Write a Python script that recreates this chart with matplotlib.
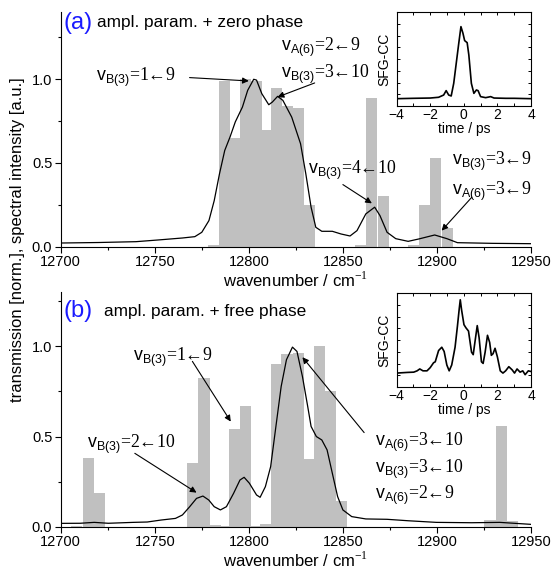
import numpy as np
import matplotlib
matplotlib.use('Agg')
import matplotlib.pyplot as plt
from matplotlib.ticker import MultipleLocator, NullFormatter

plt.rcParams['font.family'] = ['Liberation Sans', 'DejaVu Sans']
plt.rcParams['mathtext.fontset'] = 'custom'
plt.rcParams['mathtext.sf'] = 'Liberation Sans'
plt.rcParams['mathtext.rm'] = 'Liberation Serif'

# ---- panel (a): amplitude parametrisation + zero phase
bars_a_x = [12781.3, 12786.9, 12792.6, 12798.1, 12803.9, 12809.3, 12814.8, 12820.8,
            12826.6, 12832.2, 12859.5, 12865.3, 12871.4, 12887.5, 12893.3, 12899.4, 12905.5]
bars_a_h = [0.012, 0.99, 0.65, 1.0, 0.99, 0.70, 0.95, 0.84,
            0.83, 0.25, 0.012, 0.89, 0.30, 0.012, 0.25, 0.53, 0.11]

spec_a_x = [12700, 12720, 12740, 12751.6, 12764.7, 12771.3, 12775, 12778.8, 12781.6, 12784.4,
            12787.2, 12790, 12792.8, 12796.6, 12799.4, 12802.6, 12804.1, 12806.9, 12810.6, 12812.5,
            12815.3, 12818.1, 12822.8, 12827.5, 12830.3, 12833.1, 12835.6, 12838.8, 12844.4, 12849,
            12853.8, 12857.5, 12862.2, 12866.9, 12869.7, 12873.5, 12878.1, 12884.7, 12890.3, 12898.8,
            12905.3, 12910.9, 12929.7, 12950]
spec_a_y = [0.022, 0.025, 0.030, 0.040, 0.052, 0.060, 0.086, 0.156, 0.275, 0.435,
            0.575, 0.655, 0.745, 0.834, 0.934, 1.0, 0.995, 0.914, 0.848, 0.864,
            0.898, 0.874, 0.774, 0.615, 0.435, 0.236, 0.116, 0.092, 0.092, 0.076,
            0.064, 0.096, 0.196, 0.236, 0.186, 0.086, 0.048, 0.032, 0.046, 0.070,
            0.048, 0.024, 0.020, 0.018]

cc_a_t = [-4, -3, -2, -1.5, -1.2, -1.05, -0.9, -0.75, -0.6, -0.45, -0.3, -0.17, -0.05,
          0.05, 0.2, 0.3, 0.45, 0.6, 0.75, 0.85, 1.0, 1.3, 1.6, 1.8, 2.5, 3, 4]
cc_a_y = [0.078, 0.082, 0.085, 0.093, 0.117, 0.164, 0.117, 0.107, 0.242, 0.456, 0.669, 0.847, 0.776,
          0.698, 0.676, 0.544, 0.242, 0.135, 0.171, 0.164, 0.100, 0.089, 0.100, 0.085, 0.082, 0.082, 0.078]

# ---- panel (b): amplitude parametrisation + free phase
bars_b_x = [12708.5, 12714.6, 12720.4, 12770.0, 12776.2, 12782.0, 12786.5, 12792.2, 12798.2,
            12804.0, 12809.0, 12814.7, 12820.3, 12826.2, 12832.0, 12837.6, 12843.4, 12849.2,
            12928.2, 12934.3, 12940.0]
bars_b_h = [0.005, 0.383, 0.189, 0.352, 0.824, 0.010, 0.005, 0.543, 0.667,
            0.005, 0.015, 0.902, 0.956, 0.963, 0.378, 1.0, 0.75, 0.143,
            0.037, 0.559, 0.033]

spec_b_x = [12700, 12710.3, 12717.8, 12725.3, 12738.5, 12746, 12753.4, 12761, 12764.7, 12768.5,
            12772.2, 12775.6, 12778.7, 12781.6, 12784.9, 12788.1, 12791.9, 12795.3, 12797.5, 12800.3,
            12804.1, 12806, 12808.8, 12811.6, 12814.4, 12817.2, 12820, 12823.2, 12825.6, 12828.5,
            12831.3, 12833.1, 12835.9, 12838.8, 12841.6, 12844.4, 12847.2, 12850, 12854.7, 12862.2,
            12873.5, 12884.7, 12899.7, 12918.4, 12933.4, 12950]
spec_b_y = [0.0185, 0.019, 0.024, 0.019, 0.024, 0.026, 0.037, 0.046, 0.065, 0.110,
            0.157, 0.170, 0.148, 0.111, 0.093, 0.111, 0.185, 0.259, 0.274, 0.241,
            0.176, 0.163, 0.222, 0.333, 0.556, 0.778, 0.926, 0.996, 0.972, 0.833,
            0.667, 0.556, 0.500, 0.481, 0.426, 0.296, 0.167, 0.093, 0.056, 0.043,
            0.041, 0.033, 0.024, 0.022, 0.024, 0.013]

cc_b_t = [-4, -3.37, -2.98, -2.78, -2.62, -2.43, -2.19, -2.0, -1.8, -1.7, -1.5, -1.31, -1.17,
          -1.01, -0.87, -0.72, -0.52, -0.38, -0.27, -0.21, -0.13, 0.01, 0.13, 0.28, 0.46, 0.56,
          0.66, 0.80, 0.91, 1.05, 1.15, 1.27, 1.41, 1.54, 1.64, 1.74, 1.86, 2.0, 2.17, 2.33,
          2.49, 2.68, 2.88, 3.02, 3.17, 3.35, 3.51, 3.65, 3.84, 4.0]
cc_b_y = [0.148, 0.155, 0.158, 0.172, 0.192, 0.172, 0.172, 0.206, 0.258, 0.268, 0.388, 0.423, 0.378,
          0.234, 0.172, 0.234, 0.423, 0.646, 0.835, 0.928, 0.818, 0.663, 0.629, 0.595, 0.371, 0.344,
          0.474, 0.653, 0.526, 0.268, 0.251, 0.371, 0.550, 0.474, 0.337, 0.354, 0.412, 0.320, 0.172, 0.148,
          0.172, 0.216, 0.182, 0.148, 0.192, 0.158, 0.172, 0.131, 0.172, 0.165]

# labels: (mode, transition, x, y)
labels_a = [('B(3)', '1←9', 12718.8, 1.01), ('A(6)', '2←9', 12817.2, 1.19),
            ('B(3)', '3←10', 12817.2, 1.03), ('B(3)', '4←10', 12831.3, 0.455),
            ('B(3)', '3←9', 12907.8, 0.509), ('A(6)', '3←9', 12907.8, 0.331)]
arrows_a = [((12768.5, 1.01), (12800, 0.99)), ((12835, 0.978), (12815.3, 0.894)),
            ((12850, 0.371), (12865.4, 0.259)), ((12918.5, 0.295), (12902.5, 0.096))]

labels_b = [('B(3)', '1←9', 12738.4, 0.94), ('B(3)', '2←10', 12714.0, 0.459),
            ('A(6)', '3←10', 12866.9, 0.468), ('B(3)', '3←10', 12866.9, 0.318),
            ('A(6)', '2←9', 12866.9, 0.176)]
arrows_b = [((12770, 0.917), (12790.4, 0.583)), ((12739.4, 0.407), (12772.2, 0.189)),
            ((12861.3, 0.522), (12828.5, 0.94))]

W, H = 552, 576
fig = plt.figure(figsize=(W / 100, H / 100), dpi=100)


def px_axes(left, top, right, bottom):
    return fig.add_axes([left / W, 1 - bottom / H, (right - left) / W, (bottom - top) / H])


def main_panel(ax, bx, bh, sx, sy, ytop, tag, desc, labels, arrows):
    ax.bar(bx, bh, width=5.9, color='#c0c0c0', linewidth=0, zorder=1)
    ax.plot(sx, sy, color='k', lw=0.9, zorder=2)
    ax.set_xlim(12700, 12950)
    ax.set_ylim(0, ytop)
    ax.spines['top'].set_visible(False)
    ax.spines['right'].set_visible(False)
    ax.xaxis.set_major_locator(MultipleLocator(50))
    ax.xaxis.set_minor_locator(MultipleLocator(25))
    ax.yaxis.set_major_locator(MultipleLocator(0.5))
    ax.yaxis.set_minor_locator(MultipleLocator(0.25))
    ax.yaxis.set_major_formatter(plt.FormatStrFormatter('%.1f'))
    ax.tick_params(which='major', direction='out', length=4, width=0.8, labelsize=10.5, pad=2)
    ax.tick_params(which='minor', direction='out', length=2.5, width=0.8)
    ax.set_xlabel('wavenumber / cm$^{-1}$', fontsize=12, labelpad=1)
    ty = 0.955 if tag == '(a)' else 0.92
    ax.text(0.006, ty, tag, transform=ax.transAxes,
            color='#1a1aff', fontsize=17, va='center', ha='left')
    ax.text(0.078 if tag == '(a)' else 0.092, ty, desc,
            transform=ax.transAxes, fontsize=12.4, va='center', ha='left')
    for mode, tr, x, y in labels:
        ax.text(x, y, r'$\mathsf{v}_{\mathsf{' + mode + r'}}$=' + tr, fontsize=12.8,
                family=['Liberation Serif', 'DejaVu Serif'], va='center', ha='left')
    for start, end in arrows:
        ax.annotate('', xy=end, xytext=start,
                    arrowprops=dict(arrowstyle='-|>', color='k', lw=0.8, mutation_scale=9,
                                    shrinkA=0, shrinkB=0))


def inset(ax, t, y):
    ax.plot(t, y, color='k', lw=1.2)
    ax.set_xlim(-4, 4)
    ax.set_ylim(0, 1)
    ax.xaxis.set_major_locator(MultipleLocator(2))
    ax.xaxis.set_minor_locator(MultipleLocator(1))
    ax.yaxis.set_major_locator(MultipleLocator(0.125))
    ax.yaxis.set_major_formatter(NullFormatter())
    ax.tick_params(which='both', direction='in', top=True, right=True, length=2.5,
                   width=0.7, labelsize=10, pad=1.5)
    for s in ax.spines.values():
        s.set_linewidth(0.8)
    ax.set_xlabel('time / ps', fontsize=10, labelpad=0)
    ax.set_ylabel('SFG-CC', fontsize=10, labelpad=2)


ax_a = px_axes(60.7, 12.3, 531, 246.7)
main_panel(ax_a, bars_a_x, bars_a_h, spec_a_x, spec_a_y, 1.4, '(a)',
           'ampl. param. + zero phase', labels_a, arrows_a)
ax_b = px_axes(60.7, 292.3, 531, 526.7)
main_panel(ax_b, bars_b_x, bars_b_h, spec_b_x, spec_b_y, 1.3, '(b)',
           'ampl. param. + free phase', labels_b, arrows_b)

ins_a = px_axes(396.6, 12.3, 531, 106)
inset(ins_a, cc_a_t, cc_a_y)
ins_b = px_axes(396.6, 293, 531, 387)
inset(ins_b, cc_b_t, cc_b_y)

fig.text(18 / W, 1 - 240 / H, 'transmission [norm.], spectral intensity [a.u.]',
         rotation=90, fontsize=12, va='center', ha='center')

fig.savefig('out.png', dpi=100)
